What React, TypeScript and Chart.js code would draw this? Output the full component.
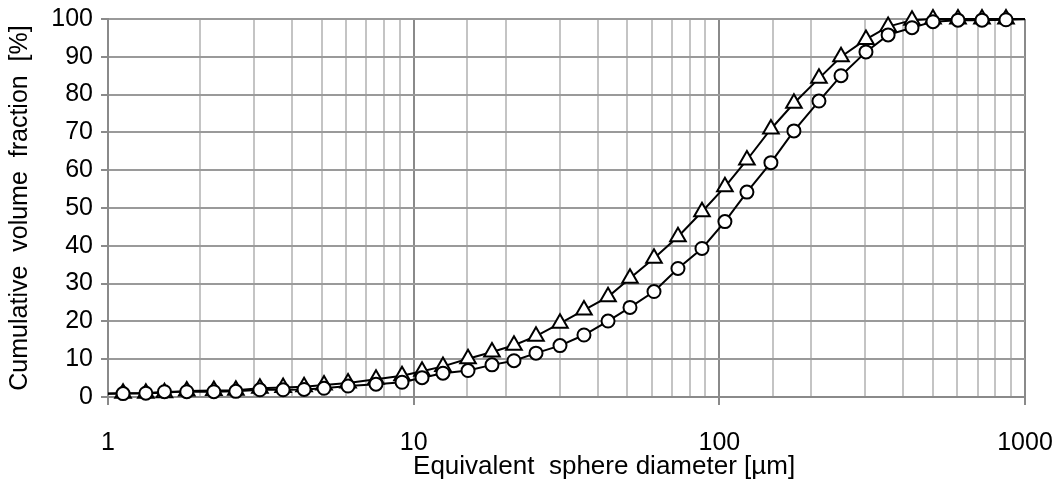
import React, { useEffect, useRef } from 'react';
import { Chart, registerables } from 'chart.js';

Chart.register(...registerables);

// Equivalent sphere diameter classes [µm] (first and last lie just outside the axis range)
const diameters = [
  0.94, 1.12, 1.33, 1.53, 1.81, 2.22, 2.62, 3.14, 3.74, 4.38, 5.09, 6.1, 7.53, 9.16,
  10.65, 12.47, 15.06, 18.04, 21.29, 25.13, 30.11, 36.07, 43.24, 51.02, 61.13, 73.23,
  87.75, 104.3, 123.1, 147.5, 175.4, 211.8, 250.1, 301.8, 356.6, 426.9, 500, 603.6,
  723.3, 866.6, 1030,
];

// Cumulative volume fraction [%] – circle markers
const circleSeries = [
  0.8, 0.9, 1.0, 1.4, 1.4, 1.4, 1.5, 1.9, 1.9, 2.0, 2.3, 2.9, 3.4, 3.9,
  5.1, 6.3, 7.0, 8.5, 9.6, 11.6, 13.6, 16.4, 20.1, 23.7, 27.9, 34.0,
  39.3, 46.4, 54.2, 62.0, 70.4, 78.3, 85.0, 91.3, 95.8, 97.7, 99.3, 99.7,
  99.7, 99.8, 100,
];

// Cumulative volume fraction [%] – triangle markers
const triangleSeries = [
  0.9, 1.0, 1.0, 1.1, 1.6, 1.7, 1.8, 2.3, 2.5, 2.7, 3.2, 3.7, 4.7, 5.6,
  6.8, 8.1, 10.1, 11.9, 13.7, 16.1, 19.5, 23.0, 26.5, 31.4, 36.7, 42.4,
  49.0, 55.6, 62.7, 70.9, 77.7, 84.3, 90.0, 94.6, 98.0, 99.7, 100, 100,
  100, 100, 100,
];

const majorXTicks = [1, 10, 100, 1000];
const xTitle = 'Equivalent  sphere diameter [µm]';
const yTitle = 'Cumulative  volume  fraction  [%]';

export default function App() {
  const ref = useRef<HTMLCanvasElement>(null);

  useEffect(() => {
    const family = '"Liberation Sans", Arial, sans-serif';
    const fontSize = 25;
    const isMajor = (v: any) => {
      const n = Number(v);
      return majorXTicks.some((m) => Math.abs(m - n) < 1e-6 * m);
    };
    const last = diameters.length - 1;
    const radii = (r: number) => diameters.map((_, i) => (i === 0 || i === last ? 0 : r));
    const clip = { left: 0, right: 0, top: 15, bottom: 15 };

    // x-axis title, placed slightly right of centre as in the original figure
    const xTitlePlugin = {
      id: 'xTitlePlugin',
      afterDraw(chart: any) {
        const { ctx, chartArea } = chart;
        ctx.save();
        ctx.font = `26px ${family}`;
        ctx.fillStyle = '#000';
        ctx.textAlign = 'center';
        ctx.textBaseline = 'middle';
        const cx = chartArea.left + (chartArea.right - chartArea.left) * 0.541;
        ctx.fillText(xTitle, cx, chartArea.bottom + 70);
        ctx.restore();
      },
    };

    const chart = new Chart(ref.current as HTMLCanvasElement, {
      type: 'line',
      data: {
        datasets: [
          {
            label: 'circles',
            data: diameters.map((x, i) => ({ x, y: circleSeries[i] })),
            borderColor: '#000',
            borderWidth: 2,
            pointStyle: 'circle',
            pointRadius: radii(6.5),
            pointBackgroundColor: '#fff',
            pointBorderColor: '#000',
            pointBorderWidth: 2,
            tension: 0,
            clip,
          } as any,
          {
            label: 'triangles',
            data: diameters.map((x, i) => ({ x, y: triangleSeries[i] })),
            borderColor: '#000',
            borderWidth: 2,
            pointStyle: 'triangle',
            pointRadius: radii(9),
            pointBackgroundColor: '#fff',
            pointBorderColor: '#000',
            pointBorderWidth: 2,
            tension: 0,
            clip,
          } as any,
        ],
      },
      options: {
        animation: false,
        responsive: false,
        events: [],
        plugins: { legend: { display: false }, tooltip: { enabled: false } },
        layout: { padding: 0 },
        scales: {
          x: {
            type: 'logarithmic',
            min: 1,
            max: 1000,
            ticks: {
              autoSkip: false,
              maxRotation: 0,
              minRotation: 0,
              color: '#000',
              font: { family, size: fontSize },
              padding: 23,
              callback: (v: any) => (isMajor(v) ? String(Number(v)) : ''),
            },
            grid: {
              color: (c: any) => (isMajor(c.tick?.value) ? '#8a8a8a' : '#c4c4c4'),
              tickColor: (c: any) => (isMajor(c.tick?.value) ? '#8a8a8a' : 'rgba(0,0,0,0)'),
              lineWidth: 2,
              tickLength: 8,
            },
            border: { color: '#8a8a8a', width: 2 },
            title: { display: false },
            afterFit: (s: any) => {
              s.height = 86;
              s.paddingRight = 36;
            },
          } as any,
          y: {
            min: 0,
            max: 100,
            ticks: { stepSize: 10, color: '#000', font: { family, size: fontSize }, padding: 8 },
            grid: { color: '#9a9a9a', lineWidth: 2, tickLength: 7, tickColor: '#8a8a8a' },
            border: { color: '#8a8a8a', width: 2 },
            title: {
              display: true,
              text: yTitle,
              color: '#000',
              font: { family, size: fontSize },
              padding: { top: 5, bottom: 0 },
            },
            afterFit: (s: any) => {
              s.width = 108;
              s.paddingTop = 19;
            },
          } as any,
        },
      },
      plugins: [xTitlePlugin],
    });
    return () => chart.destroy();
  }, []);

  return (
    <div style={{ position: 'absolute', left: 0, top: 0, width: 1061, height: 483, background: '#fff' }}>
      <canvas ref={ref} width={1061} height={483} style={{ display: 'block' }} />
    </div>
  );
}
